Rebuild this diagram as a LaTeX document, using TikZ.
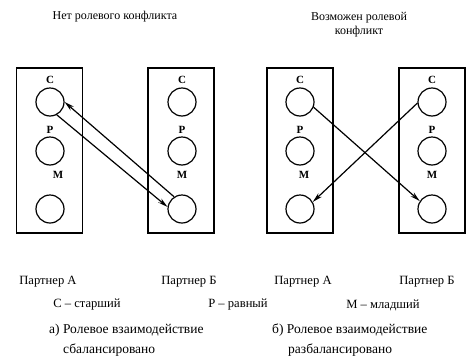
\documentclass[tikz,border=0pt]{standalone}
\usepackage{fontspec}
\setmainfont{Liberation Serif}
\usetikzlibrary{arrows.meta, positioning}

\begin{document}
\begin{tikzpicture}[x=1pt, y=-1pt,
    partbox/.style={rectangle, draw=black, line width=1.6pt, minimum width=66pt, minimum height=165pt, inner sep=0pt},
    role/.style={circle, draw=black, line width=1.2pt, minimum size=28pt, inner sep=0pt},
    rolelabel/.style={font=\fontsize{11}{12}\selectfont\bfseries, inner sep=0pt},
    caption/.style={font=\fontsize{12}{14}\selectfont, inner sep=0pt, align=center},
    partner/.style={font=\fontsize{12.6}{14}\selectfont, inner sep=0pt},
    subcap/.style={font=\fontsize{13.5}{15}\selectfont, inner sep=0pt, anchor=west},
    arrow/.style={-{Stealth[length=10pt, width=5pt]}, line width=1.2pt}
]
\useasboundingbox (0,0) rectangle (476,359);
% titles
\node[caption] (t1) at (115,17) {Нет ролевого конфликта};
\node[caption] (t2) at (359,25) {Возможен ролевой\\конфликт};
% partner boxes
\node[partbox] (la) at (49.5,150.5) {};
\node[partbox] (lb) at (181,150.5) {};
\node[partbox] (ra) at (300,150.5) {};
\node[partbox] (rb) at (432,150.5) {};
% roles in each box
\foreach \b/\x in {la/50, lb/182, ra/300, rb/432} {
  \node[role] (\b c) at (\x,102) {};
  \node[role] (\b p) at (\x,151) {};
  \node[role] (\b m) at (\x,209) {};
  \node[rolelabel] at (\x,80) {С};
  \node[rolelabel] at (\x,130) {Р};
}
\node[rolelabel] at (58,175) {М};
\node[rolelabel] at (182,175) {М};
\node[rolelabel] at (304,175) {М};
\node[rolelabel] at (432,175) {М};
% a) balanced
\draw[arrow] (lac.-62) -- (lbm.172);
\draw[arrow] (lbm.123) -- (lac.0);
% b) unbalanced
\draw[arrow] (rac.-21) -- (rbm.147);
\draw[arrow] (rbc.184) -- (ram.29);
% legend
\node[partner] (pa1) at (48,282) {Партнер А};
\node[partner] (pb1) at (189,282) {Партнер Б};
\node[partner] (pa2) at (303,282) {Партнер А};
\node[partner] (pb2) at (427,282) {Партнер Б};
\node[partner] (c) at (87,305) {С – старший};
\node[partner] (p) at (238,305) {Р – равный};
\node[partner] (m) at (383,305) {М – младший};
\node[subcap] (ca) at (49,330) {а) Ролевое взаимодействие};
\node[subcap] (ca2) at (63,350) {сбалансировано};
\node[subcap] (cb) at (272,330) {б) Ролевое взаимодействие};
\node[subcap] (cb2) at (288,350) {разбалансировано};
\end{tikzpicture}
\end{document}
